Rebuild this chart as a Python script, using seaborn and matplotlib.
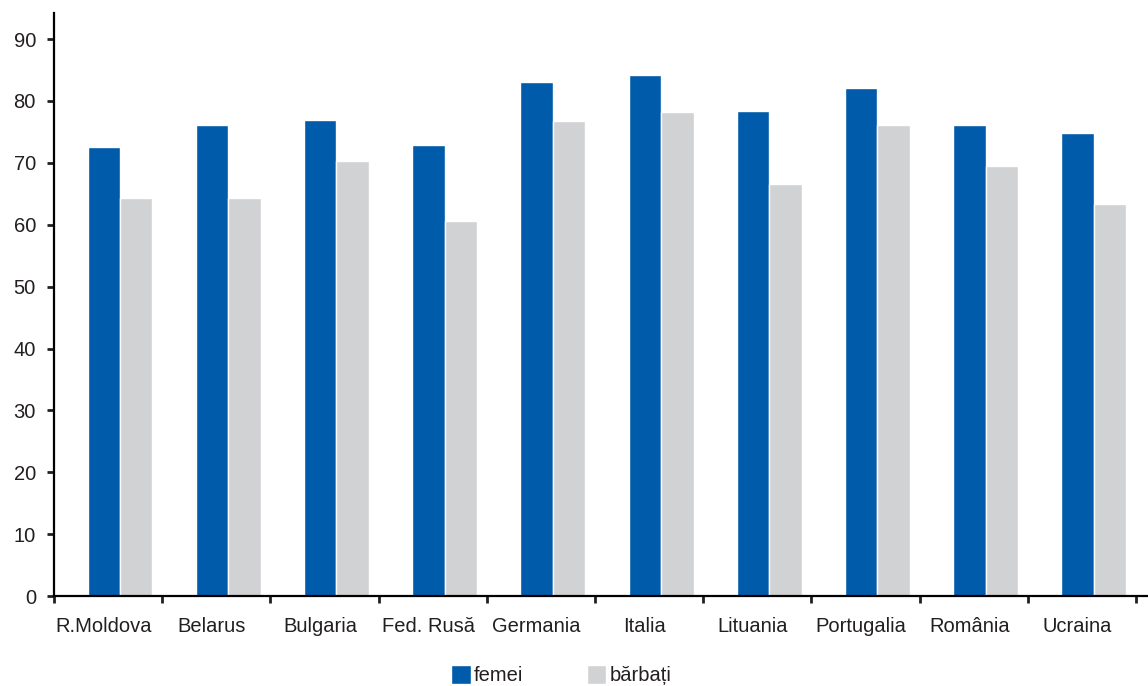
import matplotlib.pyplot as plt
import seaborn as sns
import pandas as pd
import numpy as np

# life expectancy by sex
countries = ["R.Moldova", "Belarus", "Bulgaria", "Fed. Rusă", "Germania",
             "Italia", "Lituania", "Portugalia", "România", "Ucraina"]
femei = [72.5, 76.1, 76.9, 72.9, 83.0, 84.2, 78.4, 82.1, 76.1, 74.8]
barbati = [64.3, 64.3, 70.3, 60.6, 76.7, 78.2, 66.6, 76.1, 69.5, 63.3]
series = ["femei", "bărbați"]
yticks = [0, 10, 20, 30, 40, 50, 60, 70, 80, 90]

df = pd.DataFrame({"tara": countries * 2,
                   "valoare": femei + barbati,
                   "sex": [series[0]] * len(countries) + [series[1]] * len(countries)})

sns.set_style("white")
plt.rcParams["font.family"] = ["Liberation Sans", "DejaVu Sans"]
text_col = "#231F20"

fig = plt.figure(figsize=(11.48, 6.86), dpi=100)
ax = fig.add_axes([0.047, 0.131, 0.953, 0.850])

sns.barplot(data=df, x="tara", y="valoare", hue="sex", order=countries,
            hue_order=series, palette=["#005BAA", "#D1D2D4"], width=0.6,
            edgecolor="white", linewidth=1, saturation=1, ax=ax)

# bars sit a little right of the category centre in the original
for p in ax.patches:
    p.set_x(p.get_x() + 0.11)

ax.set_xlim(-0.5, 9.61)
ax.set_ylim(0, 94.2)
ax.set_yticks(yticks)
ax.set_xlabel("")
ax.set_ylabel("")

for s in ["top", "right"]:
    ax.spines[s].set_visible(False)
for s in ["left", "bottom"]:
    ax.spines[s].set_color("black")
    ax.spines[s].set_linewidth(1.6)

ax.tick_params(axis="y", direction="out", length=5, width=2, color=text_col,
               labelsize=14.5, labelcolor=text_col, pad=8, left=True)
# labels sit slightly left of the category centre, ticks between categories
ax.set_xticks(np.arange(len(countries)) - 0.04, countries)
ax.tick_params(axis="x", which="major", length=0, labelsize=14.5,
               labelcolor=text_col, pad=15)
ax.set_xticks(np.arange(-0.5, len(countries)), minor=True)
ax.tick_params(axis="x", which="minor", direction="out", length=5, width=2,
               color=text_col, bottom=True)

handles, labels = ax.get_legend_handles_labels()
ax.legend_.remove()
fig.legend(handles, labels, loc="upper center", bbox_to_anchor=(0.489, 0.046),
           ncol=2, frameon=False, fontsize=14.5, handlelength=0.95,
           handleheight=1.1, handletextpad=0.15, columnspacing=3.2,
           borderpad=0, labelcolor=text_col)

fig.savefig("out.png", dpi=100)
